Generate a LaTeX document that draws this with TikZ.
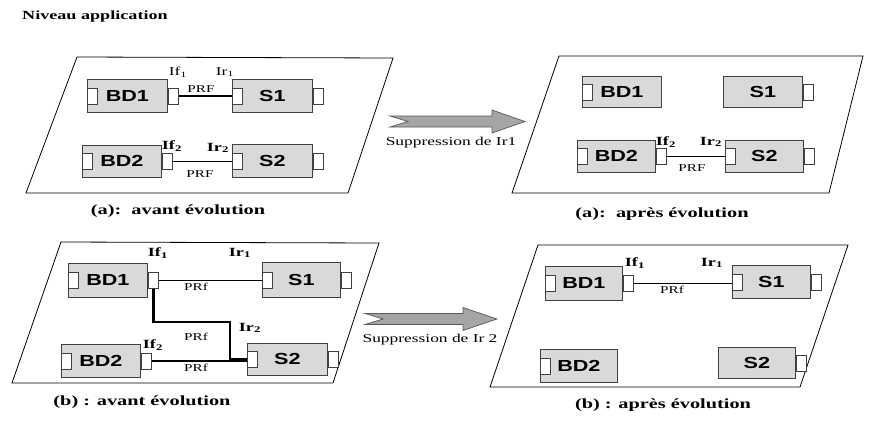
\documentclass[tikz,border=0pt]{standalone}
\usepackage{fontspec}
\usepackage{graphicx}
\setmainfont{Liberation Serif}
\newfontfamily\boxfont{Liberation Sans}
\newcommand\sx[1]{\scalebox{1.45}[1]{#1}}
\newcommand\bxt[1]{\scalebox{1.35}[1]{#1}}
\definecolor{boxgray}{RGB}{217,217,217}
\definecolor{arrgray}{RGB}{165,165,165}
\tikzset{
  cbox/.style={draw=black!75, line width=0.8pt, fill=boxgray, inner sep=0pt,
    font=\boxfont\bfseries\fontsize{16}{18}\selectfont},
  port/.style={draw=black!75, line width=0.8pt, fill=white, inner sep=0pt,
    minimum width=10pt, minimum height=16pt},
  plane/.style={draw=black, line width=0.8pt},
  lbl/.style={inner sep=0pt, font=\fontsize{12}{14}\selectfont},
  blbl/.style={inner sep=0pt, font=\bfseries\fontsize{12.5}{14}\selectfont},
  prf/.style={inner sep=0pt, font=\fontsize{10.5}{12}\selectfont},
  capt/.style={inner sep=0pt, font=\bfseries\fontsize{14}{16}\selectfont},
  link/.style={line width=1.8pt},
  thinlink/.style={line width=0.9pt},
  biglink/.style={line width=2.8pt},
  bigarrow/.style={draw=black!65, line width=0.7pt, fill=arrgray},
}
\newcommand\comp[6]{\node[cbox, minimum width=#4pt, minimum height=#5pt, anchor=north west] (#1) at (#2,#3) {\bxt{#6}};}
\newcommand\lp[1]{\node[port, anchor=west] (#1l) at (#1.west) {};}
\newcommand\rp[1]{\node[port, anchor=west] (#1r) at (#1.east) {};}
\begin{document}
\begin{tikzpicture}[x=1pt,y=-1pt]
\useasboundingbox (0,0) rectangle (872,421);
% title
\node[inner sep=0pt, anchor=west, font=\bfseries\fontsize{12.5}{14}\selectfont] (title) at (22,16) {\sx{Niveau application}};

% ---------- (a) avant ----------
\draw[plane] (77,57) -- (393,58) -- (348,193) -- (26,193) -- cycle;
\comp{aBDa}{87}{79}{80}{33}{BD1}\lp{aBDa}\rp{aBDa}
\comp{aSa}{232}{79}{80}{33}{S1}\lp{aSa}\rp{aSa}
\comp{aBDb}{82}{145}{79}{32}{BD2}\lp{aBDb}\rp{aBDb}
\comp{aSb}{232}{144}{80}{33}{S2}\lp{aSb}\rp{aSb}
\draw[link] (aBDar.east) -- (aBDar.east -| aSal.west);
\draw[thinlink] (aBDbr.east) -- (aBDbr.east -| aSbl.west);
\node[lbl] (aIfa) at (178,72) {\sx{If\textsubscript{1}}};
\node[lbl] (aIra) at (225,72) {\sx{Ir\textsubscript{1}}};
\node[prf] (aPa) at (201,89) {\sx{PRF}};
\node[blbl] (aIfb) at (172,146) {\sx{If\textsubscript{2}}};
\node[blbl] (aIrb) at (218,148) {\sx{Ir\textsubscript{2}}};
\node[prf] (aPb) at (200,174) {\sx{PRF}};
\node[capt] (capa) at (178,211) {\sx{(a):\ \ avant évolution}};

% arrow 1
\draw[bigarrow] (390,116) -- (492,116) -- (492,110) -- (525,121.5) -- (492,133) -- (492,127) -- (390,127) -- (408,121.5) -- cycle;
\node[lbl] (supa) at (451,143) {\sx{Suppression de Ir1}};

% ---------- (a) apres ----------
\draw[plane] (559,56) -- (863,56) -- (829,193) -- (512,193) -- cycle;
\comp{cBDa}{582}{76}{79}{31}{BD1}\lp{cBDa}
\comp{cSa}{723}{76}{79}{31}{S1}\rp{cSa}
\comp{cBDb}{577}{140}{78}{32}{BD2}\lp{cBDb}\rp{cBDb}
\comp{cSb}{725}{140}{78}{32}{S2}\lp{cSb}\rp{cSb}
\draw[thinlink] (cBDbr.east) -- (cBDbr.east -| cSbl.west);
\node[blbl] (cIfb) at (666,142) {\sx{If\textsubscript{2}}};
\node[blbl] (cIrb) at (711,142) {\sx{Ir\textsubscript{2}}};
\node[prf] (cPb) at (692,168) {\sx{PRF}};
\node[capt] (capc) at (662,214) {\sx{(a):\ \ après évolution}};

% ---------- (b) avant ----------
\draw[plane] (61,242) -- (379,243) -- (333,383) -- (12,383) -- cycle;
\comp{bBDa}{68}{263}{79}{34}{BD1}\lp{bBDa}\rp{bBDa}
\comp{bSa}{262}{262}{78}{35}{S1}\lp{bSa}\rp{bSa}
\comp{bBDb}{61}{344}{79}{33}{BD2}\lp{bBDb}\rp{bBDb}
\comp{bSb}{247}{343}{80}{32}{S2}\lp{bSb}\rp{bSb}
\coordinate (bk2) at (230,322);
\draw[link] (bBDar.east) -- (bBDar.east -| bSal.west);
\draw[biglink] (bBDar.south) |- (bk2) |- (bSbl.west);
\draw[link] (bBDbr.east) -- (bBDbr.east -| bSbl.west);
\node[blbl] (bIfa) at (158,253) {\sx{If\textsubscript{1}}};
\node[blbl] (bIra) at (240,253) {\sx{Ir\textsubscript{1}}};
\node[prf] (bPa) at (196,287) {\sx{PRf}};
\node[prf] (bPm) at (196,337) {\sx{PRf}};
\node[blbl] (bIrb) at (250,328) {\sx{Ir\textsubscript{2}}};
\node[blbl] (bIfb) at (153,345) {\sx{If\textsubscript{2}}};
\node[prf] (bPb) at (196,368) {\sx{PRf}};
\node[capt] (capb) at (142,402) {\sx{(b) : avant évolution}};

% arrow 2
\draw[bigarrow] (365,313.5) -- (463,313.5) -- (463,307.5) -- (497,319) -- (463,330.5) -- (463,324.5) -- (365,324.5) -- (383,319) -- cycle;
\node[lbl] (supb) at (430,340) {\sx{Suppression de Ir 2}};

% ---------- (b) apres ----------
\draw[plane] (538,245) -- (848,245) -- (800,387) -- (490,387) -- cycle;
\comp{dBDa}{545}{266}{77}{34}{BD1}\lp{dBDa}\rp{dBDa}
\comp{dSa}{732}{265}{78}{33}{S1}\lp{dSa}\rp{dSa}
\draw[link] (dBDar.east) -- (dBDar.east -| dSal.west);
\node[blbl] (dIfa) at (635,263) {\sx{If\textsubscript{1}}};
\node[blbl] (dIra) at (712,263) {\sx{Ir\textsubscript{1}}};
\node[prf] (dPa) at (672,290) {\sx{PRf}};
\comp{dBDb}{540}{349}{77}{33}{BD2}\lp{dBDb}
\comp{dSb}{718}{347}{77}{31}{S2}\rp{dSb}
\node[capt] (capd) at (663,405) {\sx{(b) : après évolution}};
\end{tikzpicture}
\end{document}
